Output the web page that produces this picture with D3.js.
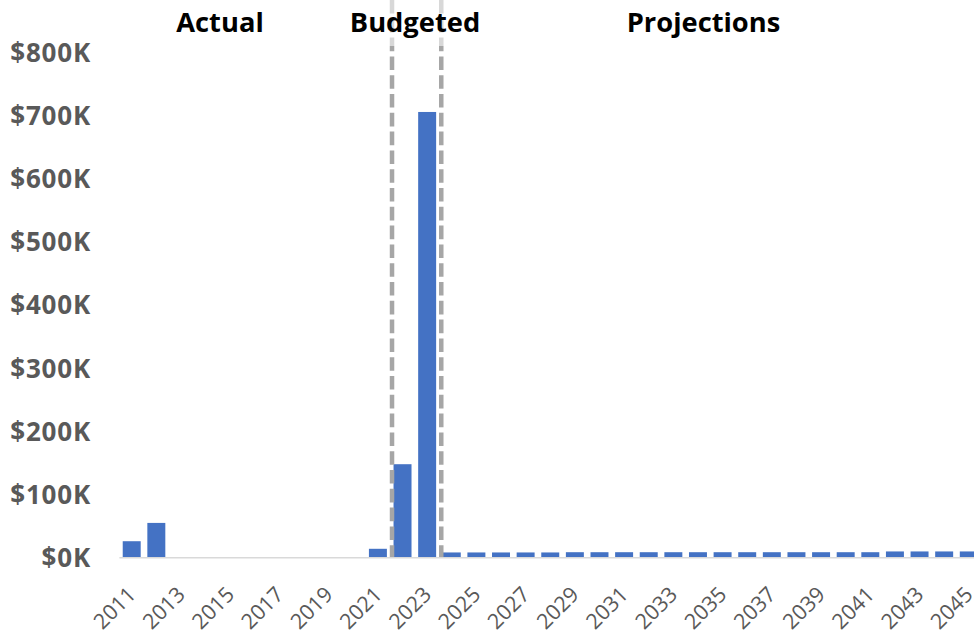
<!DOCTYPE html>
<html>
<head>
<meta charset="utf-8">
<script src="https://cdn.jsdelivr.net/npm/d3@7"></script>
<style>
  html, body { margin: 0; padding: 0; background: #fff; }
  svg { display: block; }
</style>
</head>
<body>
<svg id="chart" width="974" height="632"></svg>
<script>
// Annual amounts, in thousands of dollars
const years = [
  2011, 2012, 2013, 2014, 2015, 2016, 2017, 2018, 2019, 2020,
  2021, 2022, 2023, 2024, 2025, 2026, 2027, 2028, 2029, 2030,
  2031, 2032, 2033, 2034, 2035, 2036, 2037, 2038, 2039, 2040,
  2041, 2042, 2043, 2044, 2045
];
const amounts = [
  25, 54, 0, 0, 0, 0, 0, 0, 0, 0,
  13, 147, 705, 7.2, 7.2, 7.2, 7.2, 7.2, 7.6, 7.6,
  7.6, 7.6, 7.6, 7.6, 7.6, 7.6, 7.6, 7.6, 7.6, 7.6,
  7.6, 8.8, 8.8, 8.8, 8.8
];
const yTicks = [0, 100, 200, 300, 400, 500, 600, 700, 800];
const xTickYears = years.filter(y => y % 2 === 1);

// Period bands: label and the first / last year each one covers
const periods = [
  { label: "Actual", first: 2011, last: 2021 },
  { label: "Budgeted", first: 2022, last: 2023 },
  { label: "Projections", first: 2024, last: 2045 }
];

const FONT = "'Open Sans', 'Noto Sans', sans-serif";
const svg = d3.select("#chart");
const plot = { left: 119.4, right: 981.1, top: 52, bottom: 557 };

const x = d3.scaleBand()
  .domain(years)
  .range([plot.left, plot.right])
  .paddingInner(0.27)
  .paddingOuter(0.135);

const y = d3.scaleLinear()
  .domain([0, 800])
  .range([plot.bottom, plot.top]);

const data = years.map((yr, i) => ({ year: yr, value: amounts[i] }));

// Bars
svg.append("g")
  .selectAll("rect")
  .data(data)
  .join("rect")
  .attr("x", d => x(d.year))
  .attr("y", d => y(d.value))
  .attr("width", x.bandwidth())
  .attr("height", d => y(0) - y(d.value))
  .attr("fill", "#4472C4");

// Category axis line
svg.append("line")
  .attr("x1", plot.left).attr("x2", 974)
  .attr("y1", plot.bottom + 0.7).attr("y2", plot.bottom + 0.7)
  .attr("stroke", "#d9d9d9")
  .attr("stroke-width", 1.6);

// Period separators (dashed), placed on the band boundary before a period starts
const step = x.step();
const boundary = yr => x(yr) - (step - x.bandwidth()) / 2 + 1.8;
const separators = periods.slice(1).map(p => boundary(p.first));

svg.append("g")
  .selectAll("line")
  .data(separators)
  .join("line")
  .attr("x1", d => d).attr("x2", d => d)
  .attr("y1", 0).attr("y2", plot.bottom)
  .attr("stroke", "#a6a6a6")
  .attr("stroke-width", 4.5)
  .attr("stroke-dasharray", "13.6,5.2");

// Period headings, on a translucent white box
const headingCenter = p => {
  const a = x(p.first), b = x(p.last) + x.bandwidth();
  return (a + b) / 2;
};
const headingX = { "Actual": 220, "Budgeted": 415, "Projections": 703.5 };

svg.append("rect")
  .attr("x", 343).attr("y", 0)
  .attr("width", 144).attr("height", 46)
  .attr("fill", "#ffffff")
  .attr("fill-opacity", 0.57);

svg.append("g")
  .selectAll("text")
  .data(periods)
  .join("text")
  .attr("x", p => headingX[p.label] !== undefined ? headingX[p.label] : headingCenter(p))
  .attr("y", 32)
  .attr("text-anchor", "middle")
  .attr("font-family", FONT)
  .attr("font-weight", "bold")
  .attr("font-size", 27.3)
  .attr("fill", "#000")
  .text(p => p.label);

// Value axis labels
const yAxis = d3.axisLeft(y)
  .tickValues(yTicks)
  .tickSize(0)
  .tickPadding(0)
  .tickFormat(d => "$" + d + "K");

const yg = svg.append("g")
  .attr("transform", "translate(91,0)")
  .call(yAxis);
yg.select(".domain").remove();
yg.selectAll("text")
  .attr("font-family", FONT)
  .attr("font-weight", "bold")
  .attr("font-size", 26)
  .attr("letter-spacing", 0.8)
  .attr("fill", "#595959")
  .attr("dy", "0.36em");

// Year labels, rotated; the cap-top corner of each label sits just left of its tick
const xAxis = d3.axisBottom(x)
  .tickValues(xTickYears)
  .tickSize(0)
  .tickPadding(0);

const xg = svg.append("g")
  .attr("transform", `translate(0,${plot.bottom})`)
  .call(xAxis);
xg.select(".domain").remove();
xg.selectAll(".tick text")
  .attr("font-family", FONT)
  .attr("font-size", 21.4)
  .attr("fill", "#595959")
  .attr("text-anchor", "end")
  .attr("x", 0).attr("y", 0)
  .attr("dy", "0.72em")
  .attr("transform", "translate(-5.5,28) rotate(-45)");
</script>
</body>
</html>
